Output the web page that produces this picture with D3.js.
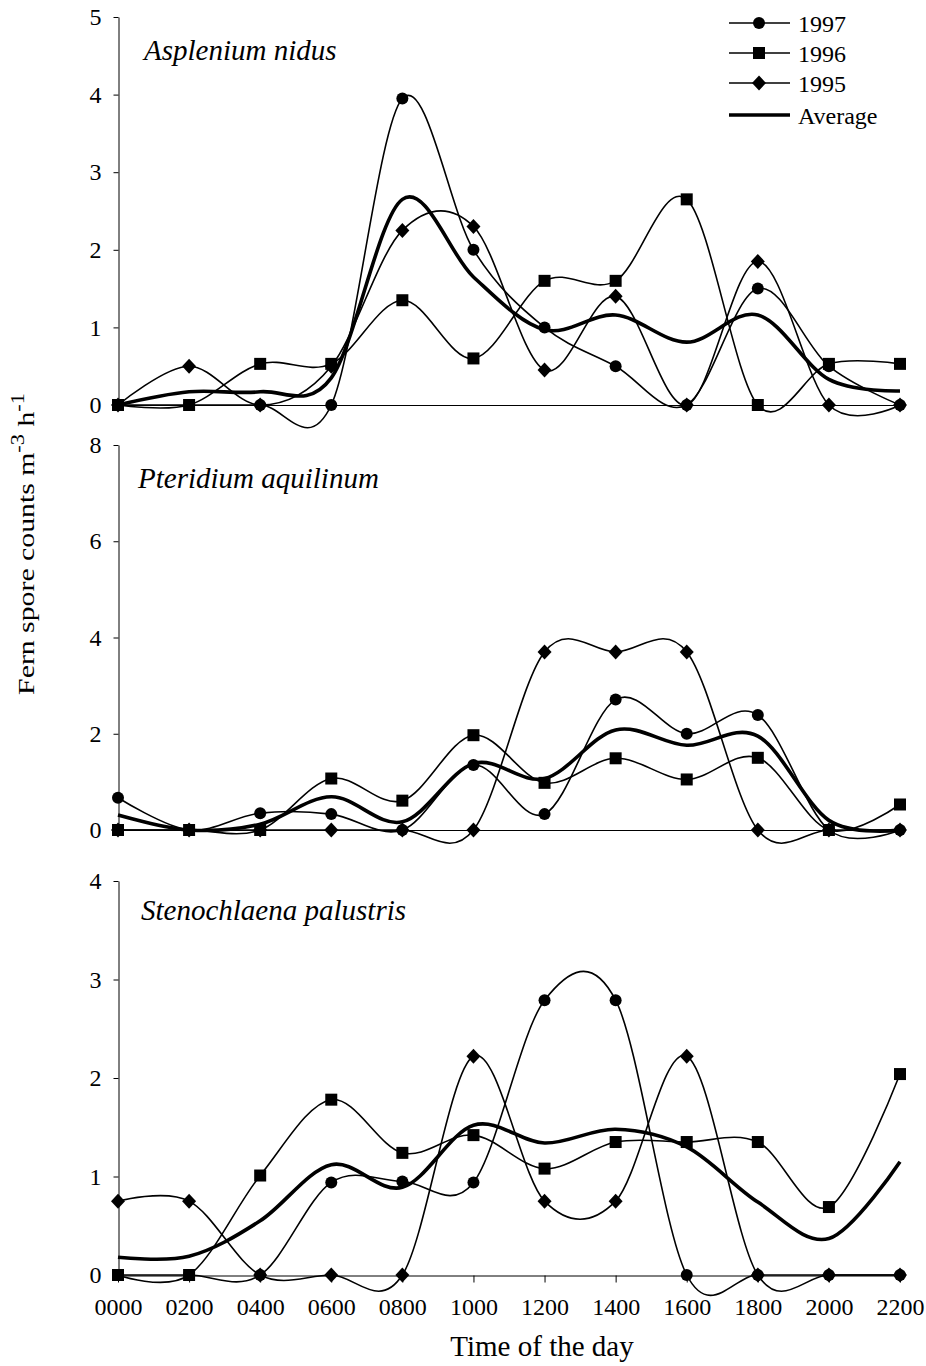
<!DOCTYPE html>
<html><head><meta charset="utf-8">
<script src="https://cdn.jsdelivr.net/npm/d3@7"></script>
<style>
body{margin:0;background:#fff}
text{font-family:"Liberation Serif","Times New Roman",serif;fill:#000}
</style>
</head><body>
<svg id="c" width="926" height="1366"></svg>
<script>
// ---- data ----
const hours = ["0000","0200","0400","0600","0800","1000","1200","1400","1600","1800","2000","2200"];
const seriesNames = ["1997","1996","1995","Average"];

// Asplenium nidus
const asp1997 = [0, 0, 0, 0, 3.95, 2.0, 1.0, 0.5, 0, 1.5, 0.5, 0];
const asp1996 = [0, 0, 0.53, 0.53, 1.35, 0.6, 1.6, 1.6, 2.65, 0, 0.53, 0.53];
const asp1995 = [0, 0.5, 0, 0.5, 2.25, 2.3, 0.45, 1.4, 0, 1.85, 0, 0];
const aspAvg  = [0, 0.17, 0.17, 0.35, 2.65, 1.65, 0.97, 1.16, 0.81, 1.16, 0.33, 0.18];

// Pteridium aquilinum
const pte1997 = [0.67, 0, 0.35, 0.33, 0, 1.35, 0.33, 2.71, 2.0, 2.39, 0, 0];
const pte1996 = [0, 0, 0, 1.07, 0.61, 1.97, 0.98, 1.49, 1.05, 1.5, 0, 0.53];
const pte1995 = [0, 0, 0, 0, 0, 0, 3.7, 3.7, 3.7, 0, 0, 0];
const pteAvg  = [0.31, 0, 0.12, 0.69, 0.17, 1.38, 1.07, 2.08, 1.76, 1.95, 0.2, 0];

// Stenochlaena palustris
const ste1997 = [0, 0, 0, 0.94, 0.95, 0.94, 2.79, 2.79, 0, 0, 0, 0];
const ste1996 = [0, 0, 1.01, 1.78, 1.24, 1.42, 1.08, 1.35, 1.35, 1.35, 0.69, 2.04];
const ste1995 = [0.75, 0.75, 0, 0, 0, 2.22, 0.75, 0.75, 2.22, 0, 0, 0];
const steAvg  = [0.18, 0.19, 0.55, 1.12, 0.89, 1.52, 1.34, 1.48, 1.3, 0.74, 0.37, 1.15];

const aspTicks = [0,1,2,3,4,5];
const pteTicks = [0,2,4,6,8];
const steTicks = [0,1,2,3,4];

// ---- layout ----
const svg = d3.select("#c");
svg.append("rect").attr("width",926).attr("height",1366).attr("fill","#fff");

const x = d3.scalePoint().domain(hours).range([118, 900]);

const panels = [
  {title:"Asplenium nidus", max:5, ticks:aspTicks, range:[405,17], tx:144, ty:60,
   data:[asp1997, asp1996, asp1995, aspAvg]},
  {title:"Pteridium aquilinum", max:8, ticks:pteTicks, range:[830,445], tx:138, ty:488,
   data:[pte1997, pte1996, pte1995, pteAvg]},
  {title:"Stenochlaena palustris", max:4, ticks:steTicks, range:[1275,881], tx:141, ty:920,
   data:[ste1997, ste1996, ste1995, steAvg]}
];

const markerTypes = ["circle","square","diamond",null];

function drawMarker(g, type, cx, cy) {
  if (type === "circle") {
    g.append("circle").attr("cx",cx).attr("cy",cy).attr("r",6).attr("fill","#000");
  } else if (type === "square") {
    g.append("rect").attr("x",cx-6).attr("y",cy-6).attr("width",12).attr("height",12).attr("fill","#000");
  } else if (type === "diamond") {
    g.append("path").attr("d",`M${cx},${cy-7.5}L${cx+7},${cy}L${cx},${cy+7.5}L${cx-7},${cy}Z`).attr("fill","#000");
  }
}

panels.forEach((p, pi) => {
  const y = d3.scaleLinear().domain([0, p.max]).range(p.range);
  const g = svg.append("g");

  // y axis
  const ya = g.append("g").attr("transform","translate(118.5,0)")
    .call(d3.axisLeft(y).tickValues(p.ticks).tickSize(5).tickSizeOuter(0).tickPadding(12).tickFormat(d3.format("d")));
  ya.selectAll("path,line").attr("stroke","#000").attr("stroke-width",1);
  ya.selectAll("text").attr("font-size",24).attr("font-family","Liberation Serif").attr("fill","#000");

  // x baseline / axis
  if (pi < 2) {
    g.append("line").attr("x1",118).attr("x2",900)
      .attr("y1",Math.round(y(0))+0.5).attr("y2",Math.round(y(0))+0.5)
      .attr("stroke","#000").attr("stroke-width",1);
  } else {
    const xa = g.append("g").attr("transform",`translate(0,${Math.round(y(0))+0.5})`)
      .call(d3.axisBottom(x).tickSize(7).tickSizeOuter(0).tickPadding(15));
    xa.selectAll("path,line").attr("stroke","#000").attr("stroke-width",1);
    xa.selectAll("text").attr("font-size",24).attr("font-family","Liberation Serif").attr("fill","#000");
  }

  // title
  g.append("text").attr("x",p.tx).attr("y",p.ty).attr("font-size",29)
    .attr("font-style","italic").text(p.title);

  const line = d3.line().x((d,i)=>x(hours[i])).y(d=>y(d)).curve(d3.curveCardinal.tension(0));

  // thin year lines
  p.data.slice(0,3).forEach(arr => {
    g.append("path").attr("d", line(arr)).attr("fill","none")
      .attr("stroke","#000").attr("stroke-width",1.6).attr("stroke-linejoin","round");
  });
  // average
  g.append("path").attr("d", line(p.data[3])).attr("fill","none")
    .attr("stroke","#000").attr("stroke-width",3.6).attr("stroke-linejoin","round");

  // markers (draw 1995, 1996, 1997 order)
  [2,1,0].forEach(si => {
    p.data[si].forEach((v,i) => drawMarker(g, markerTypes[si], x(hours[i]), y(v)));
  });
});

// legend
const lg = svg.append("g");
const rows = [23, 53, 83, 115];
seriesNames.forEach((n, i) => {
  lg.append("line").attr("x1",729).attr("x2",790).attr("y1",rows[i]).attr("y2",rows[i])
    .attr("stroke","#000").attr("stroke-width", i===3 ? 3.6 : 1.6);
  if (markerTypes[i]) drawMarker(lg, markerTypes[i], 759, rows[i]);
  lg.append("text").attr("x",798).attr("y",rows[i]+8.5).attr("font-size",24).text(n);
});

// x title
svg.append("text").attr("x",542).attr("y",1356).attr("text-anchor","middle")
  .attr("font-size",29).text("Time of the day");

// y title
const yt = svg.append("text").attr("font-size",24).attr("text-anchor","middle");
yt.append("tspan").text("Fern spore counts m");
yt.append("tspan").attr("baseline-shift","super").attr("font-size",18).text("-3");
yt.append("tspan").text(" h");
yt.append("tspan").attr("baseline-shift","super").attr("font-size",18).text("-1");
const len = yt.node().getComputedTextLength();
const sx = 302 / len;
yt.attr("transform",`translate(34,544) rotate(-90) scale(${sx},1)`);
</script>
</body></html>
